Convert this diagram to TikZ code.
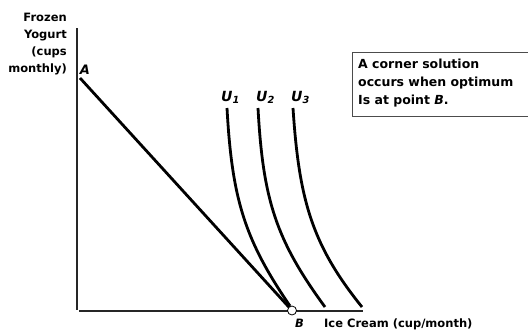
\documentclass[tikz,border=0pt]{standalone}
\usepackage{fontspec}
\setmainfont{DejaVu Sans}
\begin{document}
\begin{tikzpicture}[x=1pt,y=-1pt,
  axis/.style={line width=1.6pt,black!85},
  curve/.style={line width=2.8pt},
  lbl/.style={font=\bfseries\fontsize{11.5}{17}\selectfont,inner sep=0pt},
  ptlbl/.style={font=\bfseries\itshape\fontsize{13}{15}\selectfont,inner sep=0pt},
  ulbl/.style={font=\bfseries\itshape\fontsize{14}{16}\selectfont,inner sep=0pt},
  dot/.style={circle,draw,fill=white,inner sep=0pt,minimum size=9pt,line width=0.8pt}]
\useasboundingbox (0,0) rectangle (528,332);

% axes
\draw[axis] (77,28) -- (77,310);
\draw[axis] (79,311) -- (363,311);
\node[lbl,align=right,anchor=north east] (ylab) at (67,13) {Frozen\\Yogurt\\(cups\\monthly)};
\node[lbl,anchor=base west] (xlab) at (324,327) {Ice Cream (cup/month)};

% budget line
\coordinate (A) at (80,78);
\coordinate (Bpt) at (292,310.5);
\draw[curve] (A) -- (Bpt);
\node[ptlbl,anchor=base] (Alab) at (85,74) {A};

% indifference curves
\draw[curve] (227,108) .. controls (232,200) and (245,240) .. (290,306);
\draw[curve] (258,108) .. controls (263,200) and (276,240) .. (325,307);
\draw[curve] (293,108) .. controls (299,200) and (312,245) .. (362,307);
\node[ulbl,anchor=base west] (u1) at (221,101) {U\textsubscript{1}};
\node[ulbl,anchor=base west] (u2) at (256,101) {U\textsubscript{2}};
\node[ulbl,anchor=base west] (u3) at (291,101) {U\textsubscript{3}};

% corner point
\node[dot] (B) at (Bpt) {};
\node[lbl,font=\bfseries\itshape\fontsize{11.5}{17}\selectfont,anchor=base] (Blab) at (299.5,327) {B};

% note
\draw[line width=1pt,black!70] (530,52) -| (352,116) -- (530,116);
\node[lbl,font=\bfseries\fontsize{12.5}{18}\selectfont,align=left,anchor=north west] (note) at (358,59)
  {A corner solution\\occurs when optimum\\Is at point \textit{B}.};
\end{tikzpicture}
\end{document}
